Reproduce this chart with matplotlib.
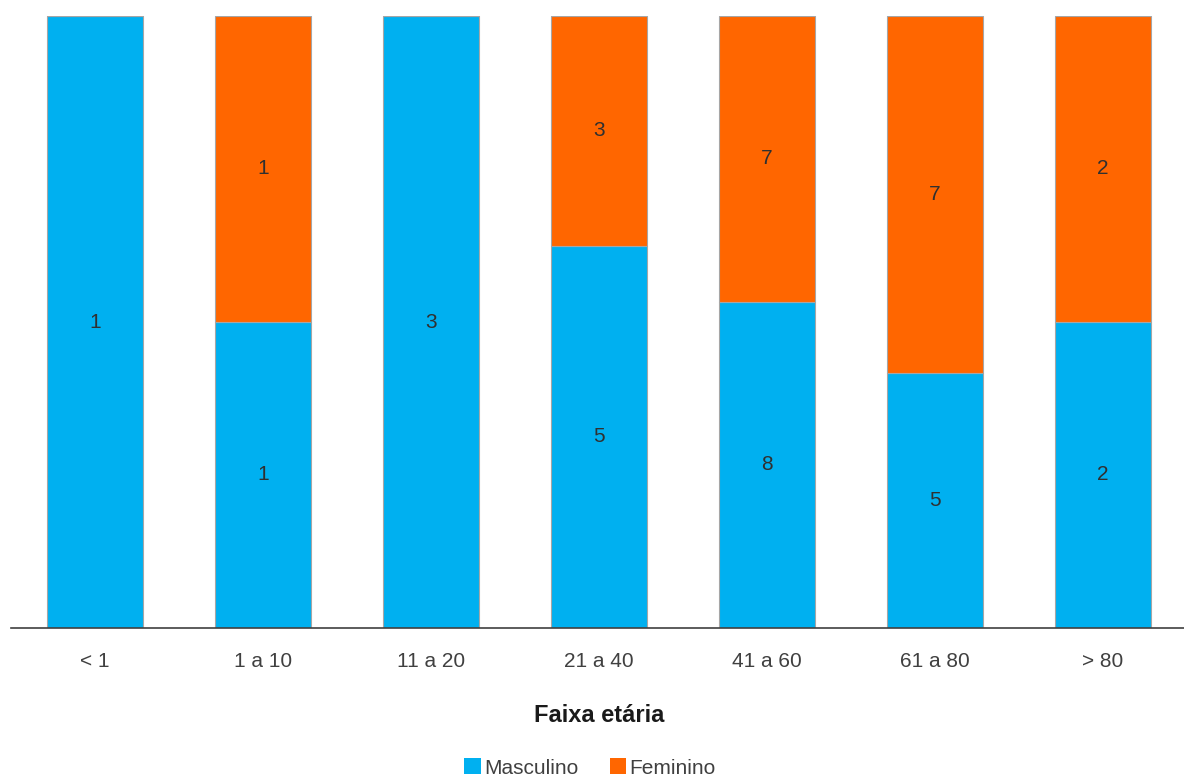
import numpy as np
import matplotlib
matplotlib.use("Agg")
import matplotlib.pyplot as plt
from matplotlib.patches import Patch

plt.rcParams['font.family'] = ['Liberation Sans', 'DejaVu Sans']

# faixas etarias e contagens
faixas = ["< 1", "1 a 10", "11 a 20", "21 a 40", "41 a 60", "61 a 80", "> 80"]
masculino = [1, 1, 3, 5, 8, 5, 2]
feminino = [0, 1, 0, 3, 7, 7, 2]

cor_masc = "#00B0F0"
cor_fem = "#FF6600"

masc = np.array(masculino, dtype=float)
fem = np.array(feminino, dtype=float)
total = masc + fem
p_masc = masc / total
p_fem = fem / total

fig = plt.figure(figsize=(11.84, 7.81), dpi=100)
ax = fig.add_axes([11 / 1184, 153 / 781, 1176 / 1184, 612 / 781])

x = np.arange(len(faixas))
w = 0.571
ax.bar(x, p_masc, w, color=cor_masc, edgecolor="#A6A6A6", linewidth=0.8)
ax.bar(x, p_fem, w, bottom=p_masc, color=cor_fem, edgecolor="#A6A6A6", linewidth=0.8)

for i in range(len(faixas)):
    if masc[i] > 0:
        ax.text(x[i], p_masc[i] / 2, str(masculino[i]), ha="center", va="center",
                fontsize=15, color="#303030")
    if fem[i] > 0:
        ax.text(x[i], p_masc[i] + p_fem[i] / 2, str(feminino[i]), ha="center", va="center",
                fontsize=15, color="#303030")

ax.set_xlim(-0.5, len(faixas) - 0.5)
ax.set_ylim(0, 1)
ax.set_yticks([])
ax.set_xticks(x)
ax.set_xticklabels(faixas, fontsize=15, color="#404040")
ax.tick_params(axis="x", length=0, pad=17)
for s in ["top", "right", "left"]:
    ax.spines[s].set_visible(False)
ax.spines["bottom"].set_color("#404040")
ax.spines["bottom"].set_linewidth(1.2)

ax.set_xlabel("Faixa etária", fontsize=17, fontweight="bold", color="#1a1a1a", labelpad=24)

handles = [Patch(facecolor=cor_masc, label="Masculino"),
           Patch(facecolor=cor_fem, label="Feminino")]
fig.legend(handles=handles, loc="center", bbox_to_anchor=(590 / 1184, 1 - 768 / 781),
           ncol=2, frameon=False, fontsize=15, handlelength=0.8, handleheight=0.8,
           handletextpad=0.15, columnspacing=1.5, labelcolor="#404040")

fig.savefig("out.png", dpi=100)
